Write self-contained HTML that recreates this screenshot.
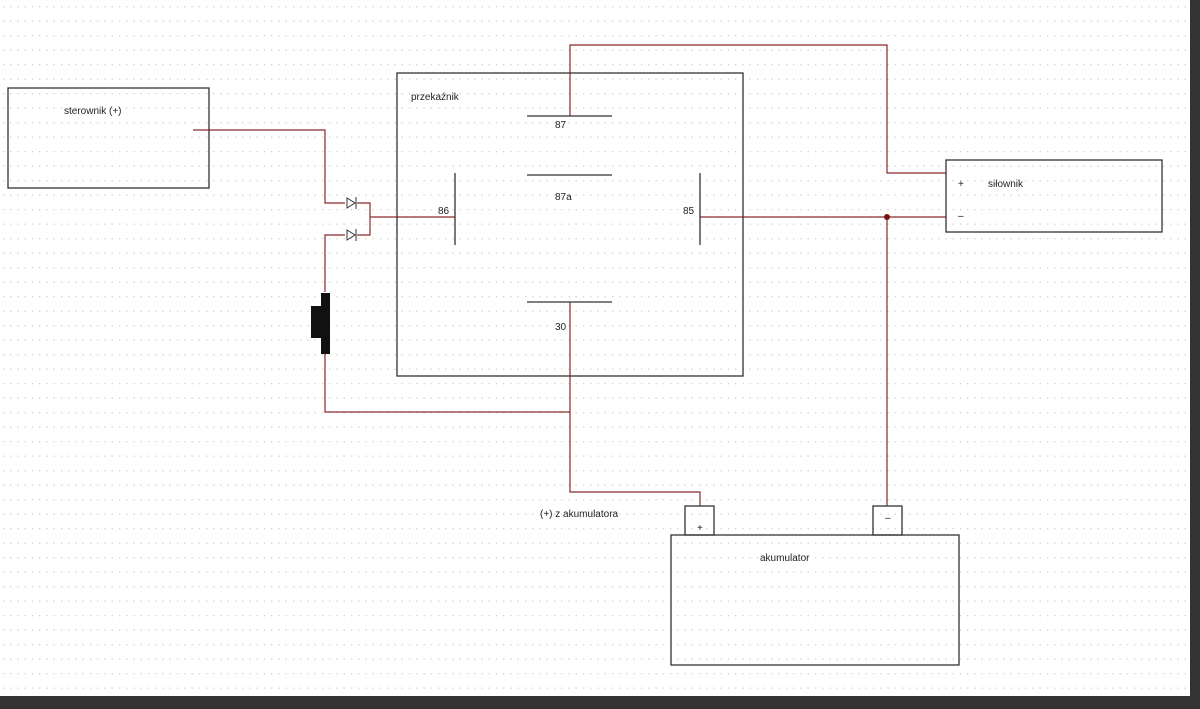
<!DOCTYPE html>
<html><head><meta charset="utf-8"><style>
html,body{margin:0;padding:0;width:1200px;height:709px;overflow:hidden;background:#fff}
svg{display:block}
text{font-family:"Liberation Sans",sans-serif;font-size:10px;fill:#222}
</style></head><body>
<svg width="1200" height="709" viewBox="0 0 1200 709" xmlns="http://www.w3.org/2000/svg">
<defs>
<pattern id="g" width="14.5" height="14.5" patternUnits="userSpaceOnUse">
<rect x="3" y="6" width="1.3" height="1.3" fill="#d0d0d0"/>
<rect x="10" y="6" width="1.3" height="1.3" fill="#d0d0d0"/>
</pattern>
</defs>
<rect width="1200" height="709" fill="#fff"/>
<rect width="1190" height="696" fill="url(#g)"/>
<rect x="1190" y="0" width="10" height="709" fill="#333"/>
<rect x="0" y="696" width="1200" height="13" fill="#333"/>
<g fill="none" stroke="#8a2a2a" stroke-width="1.2">
<polyline points="193,130 325,130 325,203 345,203"/>
<polyline points="357,203 370,203 370,235 357,235"/>
<polyline points="345,235 325,235 325,292"/>
<polyline points="325,354 325,412 570,412"/>
<line x1="370" y1="217" x2="455" y2="217"/>
<polyline points="570,116 570,45 887,45 887,173 946,173"/>
<line x1="700" y1="217" x2="946" y2="217"/>
<line x1="887" y1="217" x2="887" y2="506"/>
<polyline points="570,302 570,492 700,492 700,506"/>
</g>
<circle cx="887" cy="217" r="3" fill="#7a1010"/>
<g fill="none" stroke="#333" stroke-width="1.3">
<rect x="8" y="88" width="201" height="100"/>
<rect x="397" y="73" width="346" height="303"/>
<rect x="946" y="160" width="216" height="72"/>
<rect x="671" y="535" width="288" height="130"/>
<rect x="685" y="506" width="29" height="29"/>
<rect x="873" y="506" width="29" height="29"/>
<line x1="455" y1="173" x2="455" y2="245"/>
<line x1="700" y1="173" x2="700" y2="245"/>
<line x1="527" y1="116" x2="612" y2="116"/>
<line x1="527" y1="175" x2="612" y2="175"/>
<line x1="527" y1="302" x2="612" y2="302"/>
</g>
<g stroke="#333" stroke-width="1" fill="none">
<polygon points="347,198 347,208 355,203"/><line x1="356" y1="197" x2="356" y2="209"/>
<polygon points="347,230 347,240 355,235"/><line x1="356" y1="229" x2="356" y2="241"/>
</g>
<rect x="321" y="293" width="9" height="61" fill="#111"/>
<rect x="311" y="306" width="11" height="32" fill="#111"/>
<text x="64" y="114">sterownik (+)</text>
<text x="411" y="100">przekaźnik</text>
<text x="555" y="128">87</text>
<text x="555" y="200">87a</text>
<text x="438" y="214">86</text>
<text x="683" y="214">85</text>
<text x="555" y="330">30</text>
<text x="958" y="187">+</text>
<text x="988" y="187">siłownik</text>
<text x="958" y="219">–</text>
<text x="540" y="517">(+) z akumulatora</text>
<text x="697" y="531">+</text>
<text x="885" y="521">–</text>
<text x="760" y="561">akumulator</text>
</svg>
</body></html>
